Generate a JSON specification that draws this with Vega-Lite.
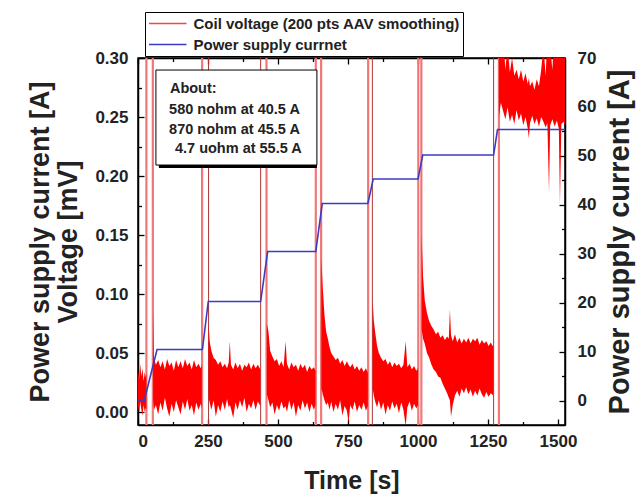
{
  "$schema": "https://vega.github.io/schema/vega-lite/v6.json",
  "width": 427,
  "height": 367,
  "autosize": {"type": "none"},
  "padding": {"left": 138, "top": 58, "right": 76, "bottom": 73},
  "background": "white",
  "config": {
    "view": {"stroke": "#000", "strokeWidth": 1.5},
    "font": "Liberation Sans",
    "axis": {
      "zindex": 1, "grid": false,
      "labelFont": "Liberation Sans", "labelFontWeight": "bold", "labelFontSize": 17, "labelColor": "#222",
      "titleFont": "Liberation Sans", "titleFontWeight": "bold", "titleFontSize": 25, "titleColor": "#222",
      "tickColor": "#000", "domainColor": "#000", "domainWidth": 1.5, "tickWidth": 1.3, "tickSize": -6
    }
  },
  "datasets": {
    "noise": [
      {"t":0,"lo":0.005,"hi":0.035},{"t":4,"lo":0.0,"hi":0.028},{"t":8,"lo":0.009,"hi":0.041},{"t":12,"lo":0.002,"hi":0.03},{"t":16,"lo":-0.003,"hi":0.037},{"t":20,"lo":0.006,"hi":0.026},{"t":24,"lo":0.0,"hi":0.034},{"t":28,"lo":0.004,"hi":0.029},{"t":30,"lo":0.001,"hi":0.033},
      {"t":31,"lo":0.35,"hi":0.4},{"t":53,"lo":0.35,"hi":0.4},
      {"t":54,"lo":0.01,"hi":0.085},{"t":57,"lo":0.002,"hi":0.046},{"t":64,"lo":0.006,"hi":0.04},{"t":72,"lo":-0.002,"hi":0.044},{"t":80,"lo":0.008,"hi":0.038},{"t":88,"lo":0.001,"hi":0.043},{"t":96,"lo":0.012,"hi":0.036},{"t":104,"lo":0.003,"hi":0.045},{"t":112,"lo":-0.004,"hi":0.039},{"t":120,"lo":0.007,"hi":0.042},{"t":128,"lo":0.0,"hi":0.035},{"t":136,"lo":0.01,"hi":0.044},{"t":144,"lo":0.004,"hi":0.038},{"t":152,"lo":-0.002,"hi":0.043},{"t":160,"lo":0.009,"hi":0.037},{"t":168,"lo":0.002,"hi":0.045},{"t":176,"lo":0.011,"hi":0.039},{"t":184,"lo":0.001,"hi":0.042},{"t":192,"lo":0.006,"hi":0.036},{"t":200,"lo":-0.003,"hi":0.044},{"t":208,"lo":0.008,"hi":0.038},{"t":216,"lo":0.002,"hi":0.041},{"t":224,"lo":0.007,"hi":0.037},{"t":228,"lo":0.003,"hi":0.04},
      {"t":229,"lo":0.35,"hi":0.4},{"t":251,"lo":0.35,"hi":0.4},
      {"t":252,"lo":0.012,"hi":0.075},{"t":256,"lo":0.008,"hi":0.06},{"t":262,"lo":0.002,"hi":0.052},{"t":270,"lo":0.01,"hi":0.046},{"t":278,"lo":-0.004,"hi":0.044},{"t":286,"lo":0.006,"hi":0.04},{"t":294,"lo":0.0,"hi":0.043},{"t":302,"lo":0.009,"hi":0.038},{"t":310,"lo":0.002,"hi":0.041},{"t":318,"lo":0.011,"hi":0.037},{"t":324,"lo":0.004,"hi":0.042},{"t":328,"lo":0.006,"hi":0.06},{"t":332,"lo":0.003,"hi":0.04},{"t":340,"lo":-0.005,"hi":0.036},{"t":348,"lo":0.008,"hi":0.042},{"t":356,"lo":0.002,"hi":0.037},{"t":364,"lo":0.01,"hi":0.041},{"t":372,"lo":0.004,"hi":0.035},{"t":380,"lo":0.012,"hi":0.04},{"t":388,"lo":0.0,"hi":0.038},{"t":396,"lo":0.007,"hi":0.042},{"t":404,"lo":0.003,"hi":0.036},{"t":412,"lo":0.01,"hi":0.041},{"t":420,"lo":0.002,"hi":0.037},{"t":428,"lo":0.009,"hi":0.04},{"t":437,"lo":0.005,"hi":0.036},
      {"t":438,"lo":0.35,"hi":0.4},{"t":459,"lo":0.35,"hi":0.4},
      {"t":460,"lo":0.015,"hi":0.075},{"t":466,"lo":0.01,"hi":0.068},{"t":472,"lo":0.004,"hi":0.052},{"t":480,"lo":0.008,"hi":0.047},{"t":488,"lo":-0.002,"hi":0.043},{"t":496,"lo":0.006,"hi":0.045},{"t":504,"lo":0.001,"hi":0.039},{"t":512,"lo":0.009,"hi":0.043},{"t":520,"lo":0.003,"hi":0.038},{"t":527,"lo":0.005,"hi":0.06},{"t":532,"lo":0.0,"hi":0.041},{"t":540,"lo":0.01,"hi":0.036},{"t":548,"lo":0.002,"hi":0.042},{"t":556,"lo":0.008,"hi":0.038},{"t":564,"lo":-0.004,"hi":0.04},{"t":572,"lo":0.006,"hi":0.035},{"t":580,"lo":0.001,"hi":0.041},{"t":588,"lo":0.01,"hi":0.037},{"t":596,"lo":0.003,"hi":0.04},{"t":604,"lo":0.008,"hi":0.034},{"t":612,"lo":0.0,"hi":0.039},{"t":620,"lo":0.007,"hi":0.036},{"t":628,"lo":0.002,"hi":0.038},{"t":634,"lo":0.006,"hi":0.035},
      {"t":635,"lo":0.35,"hi":0.4},{"t":654,"lo":0.35,"hi":0.4},
      {"t":655,"lo":0.02,"hi":0.13},{"t":660,"lo":0.015,"hi":0.105},{"t":666,"lo":0.01,"hi":0.082},{"t":672,"lo":0.006,"hi":0.068},{"t":678,"lo":0.008,"hi":0.062},{"t":684,"lo":0.002,"hi":0.055},{"t":690,"lo":0.009,"hi":0.05},{"t":698,"lo":0.0,"hi":0.047},{"t":706,"lo":0.007,"hi":0.044},{"t":714,"lo":0.002,"hi":0.046},{"t":722,"lo":0.01,"hi":0.041},{"t":730,"lo":-0.003,"hi":0.044},{"t":738,"lo":0.005,"hi":0.039},{"t":746,"lo":0.001,"hi":0.043},{"t":752,"lo":-0.009,"hi":0.04},{"t":758,"lo":0.006,"hi":0.038},{"t":766,"lo":0.002,"hi":0.041},{"t":774,"lo":0.009,"hi":0.036},{"t":782,"lo":0.0,"hi":0.039},{"t":790,"lo":0.006,"hi":0.035},{"t":798,"lo":0.002,"hi":0.038},{"t":806,"lo":0.008,"hi":0.034},{"t":814,"lo":0.001,"hi":0.037},{"t":821,"lo":0.005,"hi":0.033},
      {"t":822,"lo":0.35,"hi":0.4},{"t":837,"lo":0.35,"hi":0.4},
      {"t":838,"lo":0.02,"hi":0.095},{"t":842,"lo":0.014,"hi":0.078},{"t":848,"lo":0.008,"hi":0.066},{"t":854,"lo":0.004,"hi":0.056},{"t":860,"lo":0.01,"hi":0.05},{"t":868,"lo":0.002,"hi":0.046},{"t":876,"lo":0.008,"hi":0.043},{"t":884,"lo":-0.002,"hi":0.045},{"t":892,"lo":0.006,"hi":0.04},{"t":900,"lo":0.001,"hi":0.043},{"t":908,"lo":0.009,"hi":0.038},{"t":916,"lo":0.003,"hi":0.042},{"t":924,"lo":0.007,"hi":0.039},{"t":932,"lo":-0.001,"hi":0.041},{"t":940,"lo":0.008,"hi":0.037},{"t":948,"lo":0.002,"hi":0.04},{"t":956,"lo":-0.012,"hi":0.06},{"t":962,"lo":0.004,"hi":0.038},{"t":970,"lo":0.009,"hi":0.041},{"t":978,"lo":0.001,"hi":0.036},{"t":986,"lo":0.007,"hi":0.039},{"t":994,"lo":0.003,"hi":0.035},{"t":1000,"lo":0.006,"hi":0.037},
      {"t":1001,"lo":0.35,"hi":0.4},{"t":1012,"lo":0.35,"hi":0.4},
      {"t":1013,"lo":0.07,"hi":0.15},{"t":1018,"lo":0.062,"hi":0.115},{"t":1024,"lo":0.058,"hi":0.095},{"t":1032,"lo":0.05,"hi":0.084},{"t":1040,"lo":0.046,"hi":0.077},{"t":1048,"lo":0.04,"hi":0.073},{"t":1056,"lo":0.036,"hi":0.07},{"t":1064,"lo":0.034,"hi":0.066},{"t":1072,"lo":0.03,"hi":0.068},{"t":1080,"lo":0.029,"hi":0.063},{"t":1088,"lo":0.024,"hi":0.065},{"t":1096,"lo":0.02,"hi":0.061},{"t":1104,"lo":0.016,"hi":0.064},{"t":1110,"lo":0.012,"hi":0.062},{"t":1114,"lo":0.01,"hi":0.087},{"t":1118,"lo":-0.004,"hi":0.065},{"t":1124,"lo":0.006,"hi":0.06},{"t":1132,"lo":0.014,"hi":0.066},{"t":1140,"lo":0.018,"hi":0.059},{"t":1148,"lo":0.013,"hi":0.063},{"t":1156,"lo":0.02,"hi":0.058},{"t":1164,"lo":0.016,"hi":0.062},{"t":1172,"lo":0.021,"hi":0.059},{"t":1180,"lo":0.015,"hi":0.063},{"t":1188,"lo":0.019,"hi":0.058},{"t":1196,"lo":0.013,"hi":0.062},{"t":1204,"lo":0.018,"hi":0.06},{"t":1212,"lo":0.014,"hi":0.063},{"t":1220,"lo":0.02,"hi":0.057},{"t":1228,"lo":0.015,"hi":0.061},{"t":1236,"lo":0.012,"hi":0.058},{"t":1244,"lo":0.017,"hi":0.06},{"t":1252,"lo":0.013,"hi":0.056},{"t":1260,"lo":0.016,"hi":0.059},{"t":1269,"lo":0.014,"hi":0.055},
      {"t":1270,"lo":0.35,"hi":0.4},{"t":1288,"lo":0.35,"hi":0.4},
      {"t":1289,"lo":0.25,"hi":0.4},{"t":1296,"lo":0.262,"hi":0.4},{"t":1304,"lo":0.255,"hi":0.32},{"t":1312,"lo":0.248,"hi":0.29},{"t":1320,"lo":0.258,"hi":0.31},{"t":1328,"lo":0.246,"hi":0.288},{"t":1336,"lo":0.252,"hi":0.3},{"t":1344,"lo":0.244,"hi":0.285},{"t":1352,"lo":0.256,"hi":0.29},{"t":1360,"lo":0.247,"hi":0.282},{"t":1368,"lo":0.253,"hi":0.29},{"t":1376,"lo":0.243,"hi":0.28},{"t":1384,"lo":0.25,"hi":0.287},{"t":1392,"lo":0.24,"hi":0.278},{"t":1396,"lo":0.232,"hi":0.283},{"t":1400,"lo":0.245,"hi":0.276},{"t":1408,"lo":0.251,"hi":0.28},{"t":1416,"lo":0.244,"hi":0.273},{"t":1424,"lo":0.249,"hi":0.282},{"t":1432,"lo":0.242,"hi":0.276},{"t":1440,"lo":0.25,"hi":0.29},{"t":1448,"lo":0.246,"hi":0.31},{"t":1456,"lo":0.241,"hi":0.285},{"t":1462,"lo":0.245,"hi":0.32},{"t":1468,"lo":0.186,"hi":0.3},{"t":1472,"lo":0.243,"hi":0.31},{"t":1480,"lo":0.248,"hi":0.29},{"t":1488,"lo":0.242,"hi":0.33},{"t":1496,"lo":0.247,"hi":0.3},{"t":1503,"lo":0.24,"hi":0.32},{"t":1507,"lo":0.176,"hi":0.31},{"t":1512,"lo":0.244,"hi":0.35},{"t":1520,"lo":0.246,"hi":0.32},{"t":1525,"lo":0.243,"hi":0.34}
    ],
    "current": [
      {"t":0,"I":0,"s":"Power supply currnet"},{"t":22,"I":0,"s":"Power supply currnet"},{"t":68,"I":10.5,"s":"Power supply currnet"},{"t":230,"I":10.5,"s":"Power supply currnet"},{"t":251,"I":20.3,"s":"Power supply currnet"},{"t":438,"I":20.3,"s":"Power supply currnet"},{"t":463,"I":30.5,"s":"Power supply currnet"},{"t":635,"I":30.5,"s":"Power supply currnet"},{"t":658,"I":40.3,"s":"Power supply currnet"},{"t":821,"I":40.3,"s":"Power supply currnet"},{"t":840,"I":45.3,"s":"Power supply currnet"},{"t":1000,"I":45.3,"s":"Power supply currnet"},{"t":1017,"I":50.2,"s":"Power supply currnet"},{"t":1270,"I":50.2,"s":"Power supply currnet"},{"t":1284,"I":55.4,"s":"Power supply currnet"},{"t":1525,"I":55.4,"s":"Power supply currnet"}
    ],
    "spikesLight": [{"t":30},{"t":53},{"t":229},{"t":459},{"t":635},{"t":654},{"t":822},{"t":1001},{"t":1012},{"t":1289}],
    "spikesDark": [{"t":252},{"t":438},{"t":837},{"t":1270}],
    "box": [{"t1":64,"t2":639,"v1":0.2093,"v2":0.2898}],
    "legendBox": [{"t1":25,"t2":1155,"v1":0.3051,"v2":0.339}],
    "notes": [
      {"t":114,"v":0.2737,"txt":"About:"},
      {"t":111,"v":0.2559,"txt":"580 nohm at 40.5 A"},
      {"t":111,"v":0.239,"txt":"870 nohm at 45.5 A"},
      {"t":132,"v":0.2229,"txt":"4.7 uohm at 55.5 A"}
    ]
  },
  "resolve": {
    "scale": {"x": "independent", "y": "independent", "color": "independent"},
    "axis": {"x": "independent", "y": "independent"}
  },
  "layer": [
    {
      "data": {"name": "spikesLight"},
      "mark": {"type": "rule", "color": "#f07a7a", "strokeWidth": 2.2},
      "encoding": {
        "x": {"field": "t", "type": "quantitative", "scale": {"domain": [0, 1525], "nice": false, "zero": false},
              "axis": {"orient": "bottom", "values": [125, 375, 625, 875, 1125, 1375], "labels": false, "domain": false, "tickSize": -3.5, "title": null}}
      }
    },
    {
      "data": {"name": "spikesDark"},
      "mark": {"type": "rule", "color": "#a83a3a", "strokeWidth": 1},
      "encoding": {
        "x": {"field": "t", "type": "quantitative", "scale": {"domain": [0, 1525], "nice": false, "zero": false},
              "axis": {"orient": "top", "values": [0, 250, 500, 750, 1000, 1250, 1500], "labels": false, "domain": true, "title": null}}
      }
    },
    {
      "data": {"name": "noise"},
      "mark": {"type": "area", "color": "#ff0000", "clip": true},
      "encoding": {
        "x": {"field": "t", "type": "quantitative", "scale": {"domain": [0, 1525], "nice": false, "zero": false},
              "axis": {"orient": "bottom", "values": [0, 250, 500, 750, 1000, 1250, 1500], "format": "d", "labelPadding": 14, "title": "Time [s]", "titlePadding": 19}},
        "y": {"field": "lo", "type": "quantitative", "scale": {"domain": [-0.011, 0.3], "nice": false, "zero": false},
              "axis": {"orient": "left", "values": [0, 0.05, 0.1, 0.15, 0.2, 0.25, 0.3], "format": ".2f", "labelPadding": 16,
                       "title": ["Power supply current [A]", "Voltage [mV]"], "titleFontSize": 27, "titleLineHeight": 28, "titlePadding": 12}},
        "y2": {"field": "hi"}
      }
    },
    {
      "data": {"name": "current"},
      "mark": {"type": "line", "strokeWidth": 1.6, "clip": true},
      "encoding": {
        "x": {"field": "t", "type": "quantitative", "scale": {"domain": [0, 1525], "nice": false, "zero": false}, "axis": null},
        "y": {"field": "I", "type": "quantitative", "scale": {"domain": [-4.9, 70], "nice": false, "zero": false},
              "axis": {"orient": "right", "values": [0, 10, 20, 30, 40, 50, 60, 70], "labelPadding": 18, "title": "Power supply current [A]", "titleAngle": 270, "titleBaseline": "top", "titlePadding": 10, "titleFontSize": 29}},
        "color": {"field": "s", "type": "nominal",
                  "scale": {"domain": ["Coil voltage (200 pts AAV smoothing)", "Power supply currnet"], "range": ["#ee4a44", "#3b3bc4"]},
                  "legend": {"title": null, "orient": "none", "legendX": 7, "legendY": -46, "direction": "vertical",
                             "fillColor": "white", "strokeColor": "#000", "padding": 3, "rowPadding": 4,
                             "symbolType": "M-1,0H4", "symbolSize": 225, "symbolStrokeWidth": 1.6, "labelOffset": 28.5,
                             "labelFont": "Liberation Sans", "labelFontWeight": "bold", "labelFontSize": 15, "labelColor": "#222", "labelLimit": 400}}
      }
    },
    {
      "data": {"name": "current"},
      "mark": {"type": "line", "strokeOpacity": 0, "clip": true},
      "encoding": {
        "x": {"field": "t", "type": "quantitative", "scale": {"domain": [0, 1525], "nice": false, "zero": false},
              "axis": {"orient": "top", "values": [125, 375, 625, 875, 1125, 1375], "labels": false, "domain": false, "tickSize": -3.5, "title": null}},
        "y": {"field": "I", "type": "quantitative", "scale": {"domain": [-4.9, 70], "nice": false, "zero": false},
              "axis": {"orient": "right", "values": [5, 15, 25, 35, 45, 55, 65], "labels": false, "domain": false, "tickSize": -3.5, "title": null}}
      }
    },
    {
      "data": {"name": "box"},
      "mark": {"type": "rect", "color": "#000", "xOffset": 3, "yOffset": 3},
      "encoding": {
        "x": {"field": "t1", "type": "quantitative", "scale": {"domain": [0, 1525], "nice": false, "zero": false}, "axis": null},
        "x2": {"field": "t2"},
        "y": {"field": "v1", "type": "quantitative", "scale": {"domain": [-0.011, 0.3], "nice": false, "zero": false},
              "axis": {"orient": "left", "values": [0.025, 0.075, 0.125, 0.175, 0.225, 0.275], "labels": false, "domain": false, "tickSize": -3.5, "title": null}},
        "y2": {"field": "v2"}
      }
    },
    {
      "data": {"name": "box"},
      "mark": {"type": "rect", "fill": "#fff", "stroke": "#000", "strokeWidth": 1},
      "encoding": {
        "x": {"field": "t1", "type": "quantitative", "scale": {"domain": [0, 1525], "nice": false, "zero": false}, "axis": null},
        "x2": {"field": "t2"},
        "y": {"field": "v1", "type": "quantitative", "scale": {"domain": [-0.011, 0.3], "nice": false, "zero": false}, "axis": null},
        "y2": {"field": "v2"}
      }
    },
    {
      "data": {"name": "notes"},
      "mark": {"type": "text", "align": "left", "baseline": "middle", "font": "Liberation Sans", "fontWeight": "bold", "fontSize": 14.5, "color": "#222"},
      "encoding": {
        "x": {"field": "t", "type": "quantitative", "scale": {"domain": [0, 1525], "nice": false, "zero": false}, "axis": null},
        "y": {"field": "v", "type": "quantitative", "scale": {"domain": [-0.011, 0.3], "nice": false, "zero": false}, "axis": null},
        "text": {"field": "txt"}
      }
    },
    {
      "data": {"name": "legendBox"},
      "mark": {"type": "rect", "color": "#000", "xOffset": 3, "yOffset": 3, "clip": false},
      "encoding": {
        "x": {"field": "t1", "type": "quantitative", "scale": {"domain": [0, 1525], "nice": false, "zero": false}, "axis": null},
        "x2": {"field": "t2"},
        "y": {"field": "v1", "type": "quantitative", "scale": {"domain": [-0.011, 0.3], "nice": false, "zero": false}, "axis": null},
        "y2": {"field": "v2"}
      }
    }
  ]
}
